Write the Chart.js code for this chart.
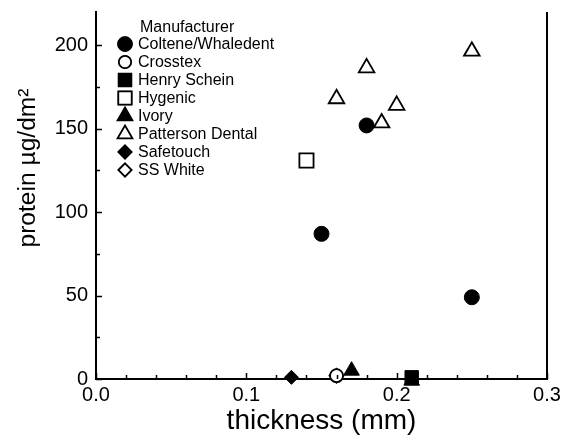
<!DOCTYPE html>
<html>
<head>
<meta charset="utf-8">
<script src="https://cdn.jsdelivr.net/npm/chart.js@4/dist/chart.umd.min.js"></script>
<style>
  html, body { margin: 0; padding: 0; background: #fff; }
  #wrap { width: 563px; height: 437px; position: relative; }
</style>
</head>
<body>
<div id="wrap"><canvas id="c"></canvas></div>
<script>
const manufacturers = ["Coltene/Whaledent", "Crosstex", "Henry Schein", "Hygenic", "Ivory", "Patterson Dental", "Safetouch", "SS White"];

// thickness (mm) / protein (µg/dm²) for each manufacturer
const colteneX = [0.15, 0.18, 0.25];
const colteneY = [87, 152, 49];
const crosstexX = [0.16];
const crosstexY = [2];
const scheinX = [0.21];
const scheinY = [1];
const hygenicX = [0.14];
const hygenicY = [131];
const ivoryX = [0.17, 0.21];
const ivoryY = [5, -1];
const pattersonX = [0.16, 0.18, 0.19, 0.20, 0.25];
const pattersonY = [168, 186.5, 153.5, 164, 196.5];
const safetouchX = [0.13];
const safetouchY = [1];
const sswhiteX = [0.16];
const sswhiteY = [2];

const xTicks = [0, 0.1, 0.2, 0.3];
const yTicks = [0, 50, 100, 150, 200];

const FONT = "'Liberation Sans', Arial, sans-serif";
const pts = (xs, ys) => xs.map((x, i) => ({ x: x, y: ys[i] }));

const styles = [
  { style: "circle", filled: true, r: 7.5 },
  { style: "circle", filled: false, r: 6.5 },
  { style: "rect", filled: true, r: 9.5 },
  { style: "rect", filled: false, r: 10 },
  { style: "triangle", filled: true, r: 9 },
  { style: "triangle", filled: false, r: 9 },
  { style: "rectRot", filled: true, r: 7 },
  { style: "rectRot", filled: false, r: 7 },
];
const series = [
  pts(colteneX, colteneY), pts(crosstexX, crosstexY), pts(scheinX, scheinY), pts(hygenicX, hygenicY),
  pts(ivoryX, ivoryY), pts(pattersonX, pattersonY), pts(safetouchX, safetouchY), pts(sswhiteX, sswhiteY),
];

const datasets = manufacturers.map((m, i) => ({
  label: m,
  data: series[i],
  pointStyle: styles[i].style,
  pointRadius: styles[i].r,
  pointBackgroundColor: styles[i].filled ? "#000" : "#fff",
  pointBorderColor: "#000",
  pointBorderWidth: styles[i].filled ? 1 : 1.8,
  clip: false,
}));

// inward ticks, right border, axis titles and the in-plot legend
const framePlugin = {
  id: "frame",
  afterDraw(chart) {
    const ctx = chart.ctx;
    const a = chart.chartArea;
    const xs = chart.scales.x, ys = chart.scales.y;
    ctx.save();
    ctx.strokeStyle = "#000";
    ctx.lineWidth = 2;
    ctx.beginPath();
    ctx.moveTo(a.right, a.top);
    ctx.lineTo(a.right, a.bottom + 1);
    ctx.stroke();

    ctx.lineWidth = 1.5;
    ctx.beginPath();
    for (let v = 0; v <= 0.3001; v += 0.02) {
      const px = Math.round(xs.getPixelForValue(v)) + 0.5;
      const major = Math.abs(v * 10 - Math.round(v * 10)) < 1e-6;
      ctx.moveTo(px, a.bottom);
      ctx.lineTo(px, a.bottom - (major ? 6 : 4));
    }
    for (let v = 0; v <= 200; v += 25) {
      const py = Math.round(ys.getPixelForValue(v)) + 0.5;
      ctx.moveTo(a.left, py);
      ctx.lineTo(a.left + (v % 50 === 0 ? 6 : 4), py);
    }
    ctx.stroke();

    // axis titles
    ctx.fillStyle = "#000";
    ctx.textAlign = "center";
    ctx.textBaseline = "middle";
    ctx.font = "28px " + FONT;
    ctx.fillText("thickness (mm)", (a.left + a.right) / 2, 421);
    ctx.save();
    ctx.translate(28, 168);
    ctx.rotate(-Math.PI / 2);
    ctx.font = "24.6px " + FONT;
    ctx.fillText("protein µg/dm²", 0, 0);
    ctx.restore();

    // legend
    const lx = 125, ly0 = 44, step = 18;
    ctx.font = "16px " + FONT;
    ctx.textAlign = "left";
    ctx.fillText("Manufacturer", 140, 28);
    chart.data.datasets.forEach((d, i) => {
      const y = ly0 + i * step;
      Chart.helpers.drawPoint(ctx, {
        pointStyle: d.pointStyle,
        radius: d.pointRadius * 0.95,
        borderWidth: d.pointBorderWidth,
        rotation: 0,
      }, lx, y);
      ctx.fillStyle = d.pointBackgroundColor;
      ctx.strokeStyle = "#000";
      ctx.lineWidth = d.pointBorderWidth;
      ctx.fill();
      ctx.stroke();
      ctx.fillStyle = "#000";
      ctx.fillText(d.label, 138, y + 1);
    });
    ctx.restore();
  },
};

const noPad = (s) => {
  s.paddingTop = 0;
  s.paddingBottom = 0;
  s.paddingLeft = 0;
  s.paddingRight = 0;
};

new Chart(document.getElementById("c"), {
  type: "scatter",
  data: { datasets: datasets },
  options: {
    responsive: true,
    maintainAspectRatio: false,
    animation: false,
    layout: { autoPadding: false, padding: { top: 12, right: 16, left: 0, bottom: 0 } },
    plugins: { legend: { display: false }, tooltip: { enabled: false } },
    scales: {
      x: {
        type: "linear",
        min: 0,
        max: 0.3,
        afterBuildTicks: (s) => { s.ticks = xTicks.map((v) => ({ value: v })); },
        afterFit: (s) => { s.height = 58; noPad(s); },
        grid: { display: false, drawTicks: false },
        border: { display: true, color: "#000", width: 2 },
        ticks: {
          color: "#000",
          padding: 4,
          font: { family: FONT, size: 20 },
          callback: (v) => Number(v).toFixed(1),
        },
      },
      y: {
        type: "linear",
        min: 0,
        max: 220,
        afterBuildTicks: (s) => { s.ticks = yTicks.map((v) => ({ value: v })); },
        afterFit: (s) => { s.width = 96; noPad(s); },
        grid: { display: false, drawTicks: false },
        border: { display: true, color: "#000", width: 2 },
        ticks: {
          color: "#000",
          padding: 8,
          font: { family: FONT, size: 20 },
        },
      },
    },
  },
  plugins: [framePlugin],
});
</script>
</body>
</html>
